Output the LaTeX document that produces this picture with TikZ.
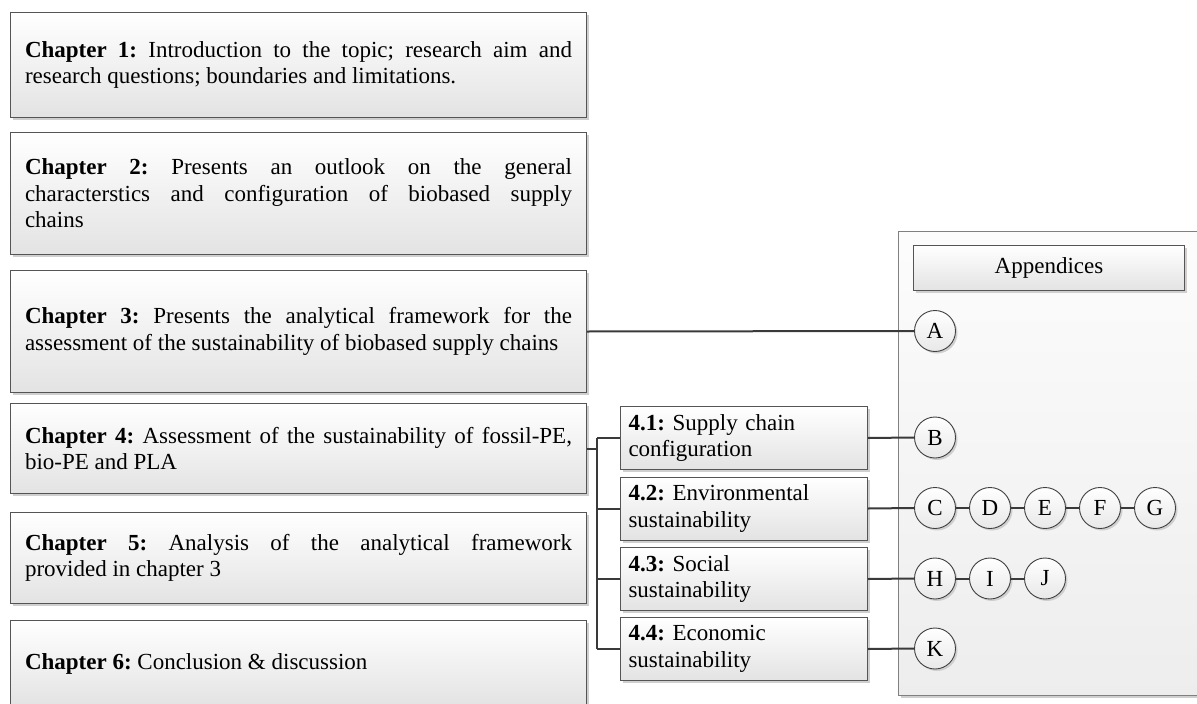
\documentclass[tikz,border=0pt]{standalone}
\usepackage{fontspec}
\setmainfont{Liberation Serif}
\usetikzlibrary{shadows,calc}
\definecolor{bordergray}{HTML}{555555}
\definecolor{linegray}{HTML}{3A3A3A}
\definecolor{shadowgray}{HTML}{CFCFCF}
\newcommand{\diagfont}{\fontsize{23}{26.5}\selectfont\frenchspacing\hyphenpenalty=10000\relax\exhyphenpenalty=10000\relax\tolerance=10000\relax}
\begin{document}
\begin{tikzpicture}[x=1pt,y=-1pt,
  txt/.style={font=\diagfont},
  shad/.style={drop shadow={shadow xshift=2.5pt,shadow yshift=-2.5pt,fill=shadowgray,opacity=1}},
  chap/.style={txt,shad,draw=bordergray,line width=1pt,top color=white,bottom color=black!11,
    anchor=north west,text width=547pt,align=justify,inner xsep=14.5pt,inner ysep=0pt,minimum width=576pt},
  subbox/.style={txt,shad,draw=bordergray,line width=1pt,top color=white,bottom color=black!11,
    anchor=north west,text width=231pt,inner xsep=8pt,inner ysep=0pt,minimum height=63pt,align=left},
  appbox/.style={shad,draw=black!50,line width=1.2pt,top color=black!1,bottom color=black!7,
    anchor=north west,minimum width=320pt,minimum height=464pt,inner sep=0pt},
  apphead/.style={txt,shad,draw=bordergray,line width=1pt,top color=white,bottom color=black!11,
    anchor=north west,minimum width=271pt,minimum height=45pt,inner sep=0pt},
  circ/.style={txt,drop shadow={shadow xshift=2pt,shadow yshift=-2pt,fill=shadowgray,opacity=1},
    circle,draw=black!75,line width=0.9pt,top color=white,bottom color=black!9,
    minimum size=41pt,inner sep=0pt},
  conn/.style={draw=linegray,line width=2pt}
]
\useasboundingbox (0,0) rectangle (1197,704);

% Appendices panel
\node[appbox] (app) at (898,231) {};
\node[apphead] (apph) at (913,245) {Appendices};

% Chapter boxes
\node[chap,minimum height=105pt] (ch1) at (10,12)
  {\textbf{Chapter 1:} Introduction to the topic; research aim and\linebreak research questions; boundaries and limitations.};
\node[chap,minimum height=122pt] (ch2) at (10,132)
  {\textbf{Chapter 2:} Presents an outlook on the general\linebreak characterstics and configuration of biobased supply\linebreak chains};
\node[chap,minimum height=122pt] (ch3) at (10,270)
  {\textbf{Chapter 3:} Presents the analytical framework for the\linebreak assessment of the sustainability of biobased supply chains};
\node[chap,minimum height=90pt] (ch4) at (10,403)
  {\textbf{Chapter 4:} Assessment of the sustainability of fossil-PE,\linebreak bio-PE and PLA};
\node[chap,minimum height=91pt] (ch5) at (10,512)
  {\textbf{Chapter 5:} Analysis of the analytical framework\linebreak provided in chapter 3};
\node[chap,minimum height=86pt] (ch6) at (10,620)
  {\textbf{Chapter 6:} Conclusion \& discussion};

% Sub-boxes of chapter 4
\node[subbox] (s41) at (620,406) {\textbf{4.1:} Supply chain\\configuration};
\node[subbox] (s42) at (620,476.5) {\textbf{4.2:} Environmental\\sustainability};
\node[subbox] (s43) at (620,547) {\textbf{4.3:} Social\\sustainability};
\node[subbox] (s44) at (620,617) {\textbf{4.4:} Economic\\sustainability};

% Appendix circles
\node[circ] (cA) at (935,331) {A};
\node[circ] (cB) at (935,437.5) {B};
\node[circ] (cC) at (935,508) {C};
\node[circ] (cD) at (990,508) {D};
\node[circ] (cE) at (1045,508) {E};
\node[circ] (cF) at (1100,508) {F};
\node[circ] (cG) at (1155,508) {G};
\node[circ] (cH) at (935,578.5) {H};
\node[circ] (cI) at (990,578.5) {I};
\node[circ] (cJ) at (1045,578.5) {J};
\node[circ] (cK) at (935,648.5) {K};

% Connectors
\coordinate (bus) at (597,0);
\draw[conn] (ch3.east) -- (cA.west);
\draw[conn] (ch4.east) -- (ch4.east -| bus);
\draw[conn] (s41.west -| bus) -- (s44.west -| bus);
\draw[conn] (s41.west -| bus) -- (s41.west);
\draw[conn] (s42.west -| bus) -- (s42.west);
\draw[conn] (s43.west -| bus) -- (s43.west);
\draw[conn] (s44.west -| bus) -- (s44.west);
\draw[conn] (s41.east) -- (cB.west);
\draw[conn] (s42.east) -- (cC.west);
\draw[conn] (s43.east) -- (cH.west);
\draw[conn] (s44.east) -- (cK.west);
\draw[conn] (cC) -- (cD);
\draw[conn] (cD) -- (cE);
\draw[conn] (cE) -- (cF);
\draw[conn] (cF) -- (cG);
\draw[conn] (cH) -- (cI);
\draw[conn] (cI) -- (cJ);
\end{tikzpicture}
\end{document}
